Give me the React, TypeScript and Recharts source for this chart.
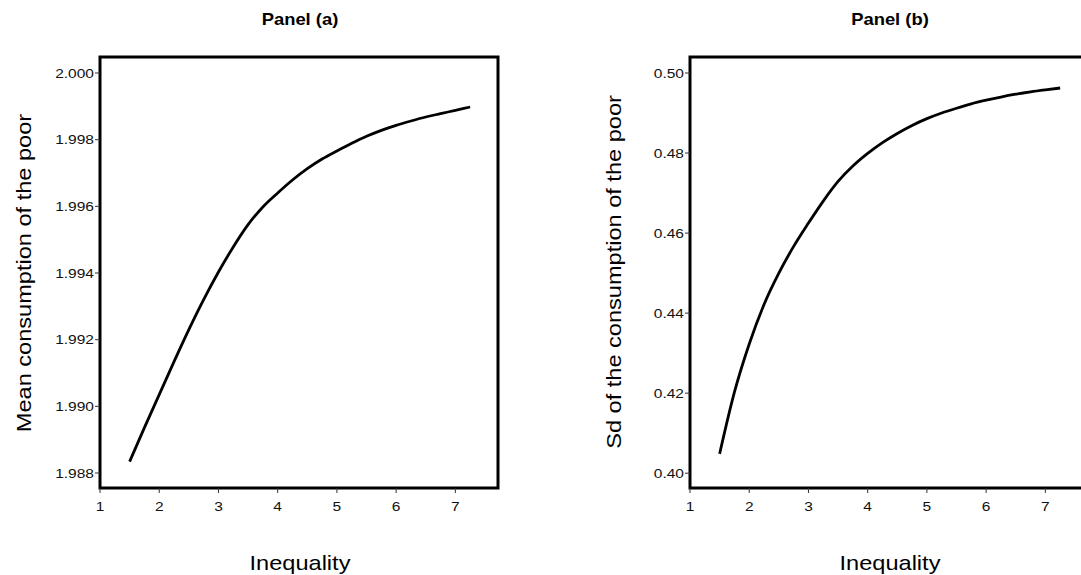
import { LineChart, Line, XAxis, YAxis, ReferenceArea } from 'recharts';

const inequality = [
  1.5, 1.75, 2, 2.25, 2.5, 2.75, 3, 3.25, 3.5, 3.75, 4, 4.25, 4.5, 4.75, 5, 5.25, 5.5, 5.75, 6,
  6.25, 6.5, 6.75, 7, 7.25,
];

const meanConsumption = [
  1.98834, 1.98936, 1.99035, 1.99134, 1.9923, 1.9932, 1.99403, 1.99478, 1.99545, 1.99598,
  1.9964, 1.99679, 1.99713, 1.99742, 1.99766, 1.99789, 1.9981, 1.99828, 1.99843, 1.99856,
  1.99868, 1.99878, 1.99888, 1.99898,
];

const sdConsumption = [
  0.40483, 0.42025, 0.4323, 0.44217, 0.45, 0.45667, 0.4625, 0.468, 0.4729, 0.47675, 0.4799,
  0.4826, 0.4849, 0.4869, 0.4886, 0.49, 0.4912, 0.4923, 0.4932, 0.494, 0.4947, 0.4953,
  0.4958, 0.49625,
];

const xTicks = [1, 2, 3, 4, 5, 6, 7];
const meanTicks = [1.988, 1.99, 1.992, 1.994, 1.996, 1.998, 2.0];
const sdTicks = [0.4, 0.42, 0.44, 0.46, 0.48, 0.5];

const X_DOMAIN: [number, number] = [1, 7.72];
const FONT = '"Liberation Sans", Arial, Helvetica, sans-serif';
const STRETCH = 1.15; // the reference type is set a little wider than Arial

// text that is stretched along its own direction
function WideText({
  x,
  y,
  angle = 0,
  size,
  bold,
  anchor = 'middle',
  dy,
  fill = '#000',
  children,
}: {
  x: number;
  y: number;
  angle?: number;
  size: number;
  bold?: boolean;
  anchor?: 'start' | 'middle' | 'end';
  dy?: string;
  fill?: string;
  children: React.ReactNode;
}) {
  return (
    <text
      transform={`translate(${x},${y}) rotate(${angle}) scale(${STRETCH},1)`}
      textAnchor={anchor}
      dy={dy}
      fontSize={size}
      fontWeight={bold ? 'bold' : 'normal'}
      fontFamily={FONT}
      fill={fill}
    >
      {children}
    </text>
  );
}

const tickRenderer = (fmt: (v: number) => string, vertical: boolean) => (props: any) => (
  <WideText
    x={props.x}
    y={props.y}
    size={13.5}
    anchor={props.textAnchor}
    dy={vertical ? '0.355em' : '0.71em'}
    fill="#111"
  >
    {fmt(props.payload.value)}
  </WideText>
);

type PanelProps = {
  values: number[];
  yDomain: [number, number];
  yTicks: number[];
  digits: number;
  left: number;
};

function Panel({ values, yDomain, yTicks, digits, left }: PanelProps) {
  const data = inequality.map((x, i) => ({ x, y: values[i] }));
  return (
    <div style={{ position: 'absolute', left, top: 0 }}>
      <LineChart
        width={540}
        height={575}
        data={data}
        margin={{ top: 57, right: 42, bottom: 57, left: 40 }}
      >
        <XAxis
          type="number"
          dataKey="x"
          domain={X_DOMAIN}
          ticks={xTicks}
          allowDataOverflow
          height={30}
          axisLine={false}
          tickSize={5}
          tickMargin={8}
          tickLine={{ stroke: '#333', strokeWidth: 1 }}
          tick={tickRenderer((v) => String(v), false)}
        />
        <YAxis
          type="number"
          domain={yDomain}
          ticks={yTicks}
          allowDataOverflow
          width={60}
          axisLine={false}
          tickSize={5}
          tickMargin={1}
          tickLine={{ stroke: '#333', strokeWidth: 1 }}
          tick={tickRenderer((v) => v.toFixed(digits), true)}
        />
        <ReferenceArea
          x1={X_DOMAIN[0]}
          x2={X_DOMAIN[1]}
          y1={yDomain[0]}
          y2={yDomain[1]}
          fill="none"
          stroke="#000"
          strokeWidth={3}
          ifOverflow="visible"
        />
        <Line
          type="monotone"
          dataKey="y"
          stroke="#000"
          strokeWidth={2.8}
          dot={false}
          isAnimationActive={false}
        />
      </LineChart>
    </div>
  );
}

export default function App() {
  return (
    <div
      style={{
        position: 'absolute',
        left: 0,
        top: 0,
        width: 1081,
        height: 575,
        overflow: 'hidden',
        background: '#fff',
      }}
    >
      <Panel
        values={meanConsumption}
        yDomain={[1.98755, 2.00048]}
        yTicks={meanTicks}
        digits={3}
        left={0}
      />
      <Panel
        values={sdConsumption}
        yDomain={[0.3963, 0.504]}
        yTicks={sdTicks}
        digits={2}
        left={590}
      />
      <svg
        width={1081}
        height={575}
        style={{ position: 'absolute', left: 0, top: 0, pointerEvents: 'none' }}
      >
        <WideText x={300} y={25} size={16} bold>
          Panel (a)
        </WideText>
        <WideText x={890} y={25} size={16} bold>
          Panel (b)
        </WideText>
        <WideText x={300} y={570} size={20.5}>
          Inequality
        </WideText>
        <WideText x={890} y={570} size={20.5}>
          Inequality
        </WideText>
        <WideText x={31} y={273} angle={-90} size={20.5}>
          Mean consumption of the poor
        </WideText>
        <WideText x={621} y={272} angle={-90} size={20.5}>
          Sd of the consumption of the poor
        </WideText>
      </svg>
    </div>
  );
}
